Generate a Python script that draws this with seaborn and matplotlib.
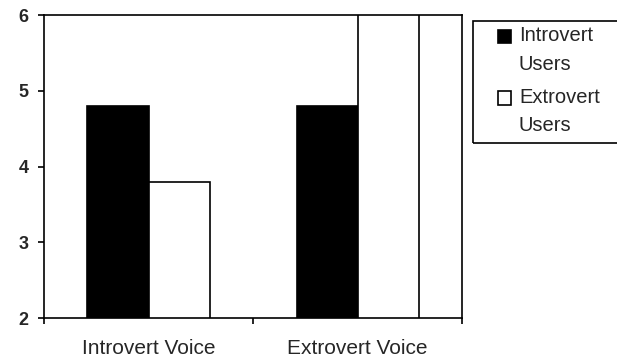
import pandas as pd
import matplotlib.pyplot as plt
import seaborn as sns
from matplotlib.patches import Rectangle

# Values
voices = ["Introvert Voice", "Extrovert Voice"]
introvert_users = [4.8, 4.8]
extrovert_users = [3.8, 6.2]  # second bar runs past the top of the axis
groups = ["Introvert Users", "Extrovert Users"]
legend_labels = ["Introvert\nUsers", "Extrovert\nUsers"]
y_ticks = [2, 3, 4, 5, 6]

df = pd.DataFrame({
    "voice": voices * 2,
    "users": [groups[0]] * 2 + [groups[1]] * 2,
    "score": introvert_users + extrovert_users,
})

sns.set_style("white")
plt.rcParams["font.family"] = ["Liberation Sans", "DejaVu Sans"]

fig = plt.figure(figsize=(6.17, 3.62), dpi=100)
ax = fig.add_axes([0.0713, 0.1215, 0.678, 0.837])

sns.barplot(
    data=df, x="voice", y="score", hue="users", order=voices, hue_order=groups,
    palette={groups[0]: "black", groups[1]: "white"},
    edgecolor="black", linewidth=1.2, width=0.585, ax=ax, legend=True,
)

ax.set_ylim(2, 6)
ax.set_xlim(-0.5, 1.5)
ax.set_yticks(y_ticks)
ax.set_xlabel("")
ax.set_ylabel("")

for side in ["left", "right", "top", "bottom"]:
    ax.spines[side].set_visible(True)
    ax.spines[side].set_color("black")
    ax.spines[side].set_linewidth(1.2)

# category labels without ticks, boundary ticks as minor ticks
ax.set_xticks([-0.5, 0.5, 1.5], minor=True)
ax.tick_params(axis="x", which="major", length=0, pad=15, labelsize=15)
ax.tick_params(axis="x", which="minor", direction="out", length=4, width=1.2,
               color="black", bottom=True)
ax.tick_params(axis="y", direction="out", length=4, width=1.2, color="black",
               left=True, pad=7, labelsize=13)
for lbl in ax.get_yticklabels():
    lbl.set_fontweight("bold")

handles, _ = ax.get_legend_handles_labels()
ax.get_legend().remove()
leg = fig.legend(
    handles, legend_labels, loc="upper left", bbox_to_anchor=(0.7905, 0.955),
    frameon=False, fontsize=14.5, handlelength=0.65, handleheight=0.65,
    handletextpad=0.4, labelspacing=0.7, borderpad=0,
)
for txt in leg.get_texts():
    txt.set_linespacing(1.62)
# put the square beside the first line of each label
for patch in leg.legend_handles:
    patch.set_y(patch.get_y() + 10)

# legend frame runs off the right edge in the reference
fig.patches.append(Rectangle((473 / 617, 1 - 143 / 362), 0.3, 122 / 362,
                             transform=fig.transFigure, fill=False,
                             edgecolor="black", linewidth=1.2))

fig.savefig("out.png", dpi=100)
